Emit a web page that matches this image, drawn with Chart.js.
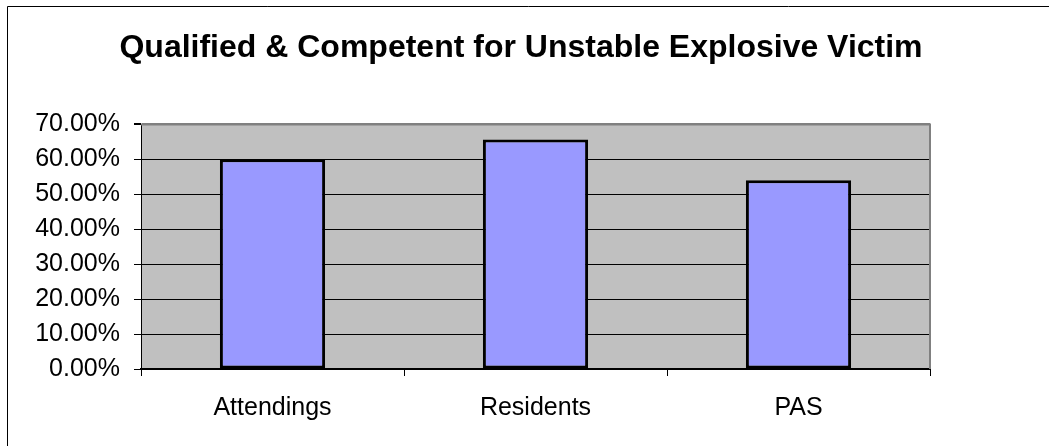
<!DOCTYPE html>
<html lang="en">
<head>
    <meta charset="UTF-8">
    <title>Qualified & Competent for Unstable Explosive Victim</title>
    <script src="https://cdn.jsdelivr.net/npm/chart.js"></script>
    <style>
        html, body { margin: 0; padding: 0; background: #fff; }
        canvas { display: block; }
    </style>
</head>
<body>
    <canvas id="myChart" width="1049" height="446"></canvas>

    <script>
        // chart values (percent of respondents)
        const categories = ['Attendings', 'Residents', 'PAS'];
        const qualifiedPct = [60.0, 65.7, 54.0];
        const yMin = 0;
        const yMax = 70;
        const yStep = 10;

        Chart.defaults.font.family = '"Liberation Sans", Arial, sans-serif';
        Chart.defaults.color = '#000';

        // grey plot background, grey top/right plot border and the outer frame
        const plotFrame = {
            id: 'plotFrame',
            beforeDraw(chart) {
                const ctx = chart.ctx;
                const a = chart.chartArea;
                ctx.save();
                ctx.fillStyle = '#fff';
                ctx.fillRect(0, 0, chart.width, chart.height);
                ctx.fillStyle = '#C0C0C0';
                ctx.fillRect(a.left, a.top, a.right - a.left, a.bottom - a.top);
                ctx.strokeStyle = '#000';
                ctx.lineWidth = 1;
                ctx.beginPath();
                ctx.moveTo(7.5, chart.height);
                ctx.lineTo(7.5, 6.5);
                ctx.lineTo(chart.width, 6.5);
                ctx.stroke();
                ctx.restore();
            },
            beforeDatasetsDraw(chart) {
                const ctx = chart.ctx;
                const a = chart.chartArea;
                ctx.save();
                ctx.strokeStyle = '#808080';
                ctx.lineWidth = 2;
                ctx.beginPath();
                ctx.moveTo(a.left, a.top);
                ctx.lineTo(a.right, a.top);
                ctx.lineTo(a.right, a.bottom);
                ctx.stroke();
                ctx.restore();
            }
        };

        const ctx = document.getElementById('myChart').getContext('2d');
        const myChart = new Chart(ctx, {
            type: 'bar',
            data: {
                labels: categories,
                datasets: [{
                    data: qualifiedPct,
                    backgroundColor: '#9999FF',
                    borderColor: '#000',
                    borderWidth: 3,
                    borderSkipped: false,
                    barPercentage: 0.4,
                    categoryPercentage: 1
                }]
            },
            options: {
                responsive: false,
                animation: false,
                layout: { padding: { left: 0, right: 7, top: 0, bottom: 0 } },
                plugins: {
                    legend: { display: false },
                    tooltip: { enabled: false },
                    title: {
                        display: true,
                        text: 'Qualified & Competent for Unstable Explosive Victim',
                        color: '#000',
                        font: { size: 32, weight: 'bold' },
                        padding: { top: 29, bottom: 57 }
                    }
                },
                scales: {
                    x: {
                        grid: {
                            offset: true,
                            drawOnChartArea: false,
                            drawTicks: true,
                            tickLength: 7,
                            color: '#000',
                            lineWidth: 1
                        },
                        border: { display: true, color: '#000', width: 2 },
                        ticks: { color: '#000', font: { size: 25 }, padding: 17 },
                        afterFit(scale) { scale.height = 77; }
                    },
                    y: {
                        min: yMin,
                        max: yMax,
                        ticks: {
                            stepSize: yStep,
                            color: '#000',
                            font: { size: 25 },
                            padding: 14,
                            callback: v => v.toFixed(2) + '%'
                        },
                        grid: {
                            color: c => (c.tick && c.tick.value === yMax) ? '#808080' : '#000',
                            lineWidth: c => (c.tick && c.tick.value === yMax) ? 2 : 1,
                            tickColor: '#000',
                            tickLength: 7
                        },
                        border: { display: true, color: '#000', width: 1 },
                        afterFit(scale) { scale.width = 141; }
                    },
                    // empty right-hand axis, only reserves space
                    y2: {
                        type: 'linear',
                        position: 'right',
                        grid: { display: false },
                        ticks: { display: false },
                        border: { display: false },
                        afterFit(scale) { scale.width = 112; }
                    }
                }
            },
            plugins: [plotFrame]
        });
    </script>
</body>
</html>
